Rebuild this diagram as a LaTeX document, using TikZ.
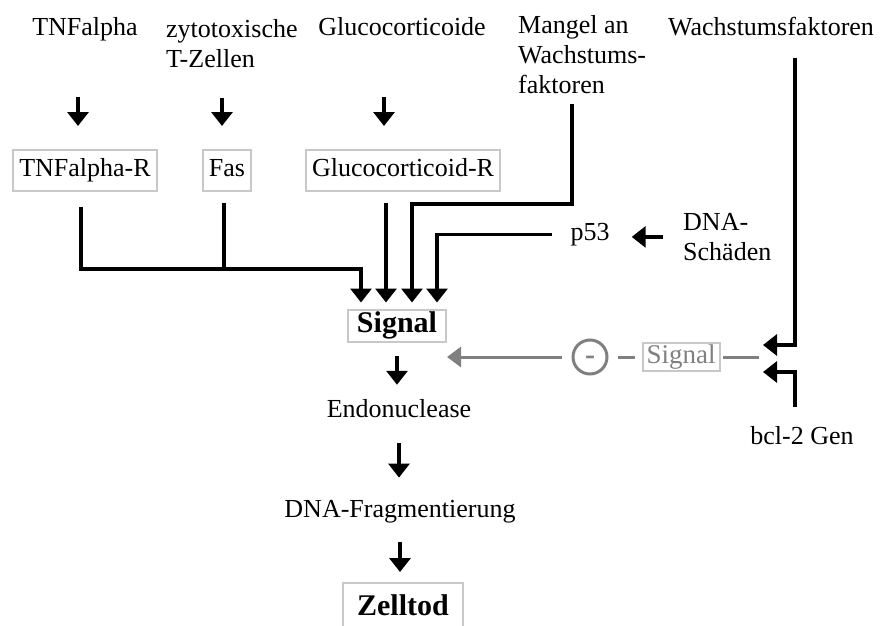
\documentclass[tikz,border=0pt]{standalone}
\usepackage{fontspec}
\setmainfont{Liberation Serif}
\usetikzlibrary{arrows.meta,calc}
\definecolor{hemmgrau}{RGB}{128,128,128}
\definecolor{rahmengrau}{RGB}{200,200,200}

\begin{document}
\begin{tikzpicture}[x=1pt,y=-1pt,
  every node/.style={font=\fontsize{26}{30}\selectfont,inner sep=3pt},
  kasten/.style={draw=rahmengrau,line width=2pt,text height=18pt,text depth=6pt,inner xsep=6pt,inner ysep=8.5pt},
  fett/.style={draw=rahmengrau,line width=2pt,font=\fontsize{30}{34}\selectfont\bfseries},
  pfeil/.style={line width=3.2pt,-{Triangle[width=21pt,length=14pt]}},
  linie/.style={line width=3.2pt},
  grau/.style={draw=hemmgrau,line width=3pt},
  graupfeil/.style={grau,-{Triangle[width=20pt,length=14pt]}}]
\clip (0,0) rectangle (883,626);
% Ausloeser
\node[anchor=base] (tnf) at (85,36) {TNFalpha};
\node[anchor=north west,inner sep=0pt,align=left] (ctl) at (166,19) {zytotoxische\\T-Zellen};
\node[anchor=base] (gc) at (402,36) {Glucocorticoide};
\node[anchor=north west,inner sep=0pt,align=left] (mangel) at (518,15) {Mangel an\\Wachstums-\\faktoren};
\node[anchor=base] (wf) at (771,36) {Wachstumsfaktoren};
% Rezeptoren
\node[kasten] (tnfr) at (85,170.5) {TNFalpha-R};
\node[kasten] (fas) at (227,170.5) {Fas};
\node[kasten] (gcr) at (403,170.5) {Glucocorticoid-R};
\node[anchor=base] (p53) at (590,240) {p53};
\node[anchor=north west,inner sep=0pt,align=left] (dna) at (683,213) {DNA-\\Schäden};
% Signalweg
\node[fett,text height=20pt,text depth=6pt,inner xsep=9pt,inner ysep=3pt] (sig) at (397,325.5) {Signal};
\node[anchor=base] (endo) at (399,417) {Endonuclease};
\node[anchor=base] (frag) at (400,517) {DNA-Fragmentierung};
\node[fett,anchor=base,text height=20pt,text depth=2pt,inner xsep=14pt,inner ysep=12pt] (tod) at (403,615) {Zelltod};
% Hemmung
\node[circle,grau,minimum size=34pt,inner sep=0pt,text=hemmgrau,font=\fontsize{30}{34}\selectfont\bfseries] (minus) at (590,357) {\smash{\raisebox{-7pt}{-}}};
\node[draw=rahmengrau,line width=2pt,text=hemmgrau,font=\fontsize{27}{30}\selectfont,inner xsep=4pt,inner ysep=2pt] (sig2) at (681,357) {Signal};
\node[anchor=base] (bcl) at (802,444) {bcl-2 Gen};
\coordinate (merge) at (361,269);
\coordinate (mk) at (572,204);
\coordinate (obenein) at (763,345);
\coordinate (untenein) at (763,372);
\coordinate (knoten) at (759,357);

\foreach \a/\b/\dx/\s in {tnf/tnfr/-7/52,ctl/fas/-5/30,gc/gcr/-19/58}
  \draw[pfeil,shorten <=\s,shorten >=23] ([xshift=\dx]\a.south -| \b.north) -- ([xshift=\dx]\b.north);
\draw[pfeil,shorten <=15,shorten >=6] ([xshift=-4]tnfr.south) |- (merge) -- ([xshift=-36]sig.north);
\draw[linie,shorten <=11] ([xshift=-3]fas.south) -- ([xshift=-3]fas.south |- merge);
\draw[pfeil,shorten <=11,shorten >=6] ([xshift=-17]gcr.south) -- ([xshift=-11]sig.north);
\draw[pfeil,shorten <=10,shorten >=6] (mangel.south -| mk) -- (mk) -| ([xshift=15]sig.north);
\draw[pfeil,shorten <=15,shorten >=6] (p53.west) -| ([xshift=40]sig.north);
\draw[pfeil,shorten <=20,shorten >=19] (dna.west) -- (dna.west -| p53.east);
\draw[pfeil,shorten <=18] ([xshift=24]wf.south) |- (obenein);
\draw[pfeil,shorten <=16] ([xshift=-7]bcl.north) |- (untenein);
\draw[grau,shorten >=2] (knoten) -- (sig2);
\draw[grau,shorten <=7,shorten >=9] (sig2) -- (minus);
\draw[graupfeil,shorten <=10] (minus) -- (minus -| sig.east);
\foreach \a/\b/\s/\t in {sig/endo/13/11,endo/frag/23/19,frag/tod/16/10}
  \draw[pfeil,shorten <=\s,shorten >=\t] (\a.south) -- (\a.south |- \b.north);
\end{tikzpicture}
\end{document}
